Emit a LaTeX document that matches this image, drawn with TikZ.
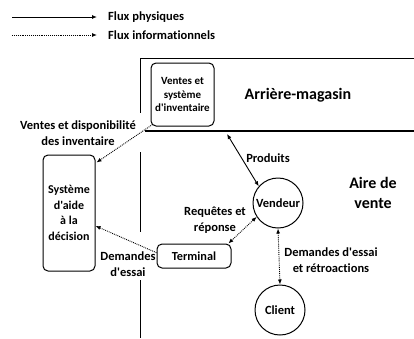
\documentclass[tikz,border=0pt]{standalone}
\usepackage{fontspec}
\newfontfamily\cf{Carlito}[Ligatures=NoCommon]
\usetikzlibrary{arrows.meta}
\begin{document}
\begin{tikzpicture}[x=1pt,y=-1pt,
  font=\cf\bfseries\fontsize{12.5}{16}\selectfont,
  >={Latex[length=5pt,width=4pt]},
  phys/.style={line width=0.9pt},
  info/.style={densely dotted, line width=0.9pt},
  wall/.style={line width=1pt},
  rbox/.style={draw, line width=1pt, rounded corners=5pt, align=center, inner sep=1pt},
  circ/.style={draw, circle, line width=1pt, minimum size=50pt, inner sep=0pt},
  lbl/.style={align=center, inner sep=0pt},
  big/.style={font=\cf\bfseries\fontsize{16}{20}\selectfont, align=center, inner sep=0pt}]
\useasboundingbox (0,0) rectangle (414,338);
% legend
\coordinate (l1a) at (12,17); \coordinate (l1b) at (97,17);
\coordinate (l2a) at (12,35); \coordinate (l2b) at (97,35);
\draw[phys,->] (l1a) -- (l1b);
\draw[info,->] (l2a) -- (l2b);
\node[anchor=west, inner sep=0pt] (lg1) at (108,17) {Flux physiques};
\node[anchor=west, inner sep=0pt] (lg2) at (108,35) {Flux informationnels};
% walls
\draw[wall] (414,58) -- (140,58) -- (140,113);
\draw[line width=1.3pt] (145,131) -- (414,131);
\draw[wall] (140,152) -- (140,232);
\draw[wall] (140,280) -- (140,338);
% nodes
\node[rbox, minimum width=63pt, minimum height=63pt, font=\cf\bfseries\fontsize{11}{13.5}\selectfont] (inv) at (182.5,94.5) {Ventes et\\système\\d'inventaire};
\node[big] (am) at (298,95) {Arrière-magasin};
\node[big] (av) at (373,193) {Aire de\\vente};
\node[rbox, minimum width=52pt, minimum height=116pt, font=\cf\bfseries\fontsize{12}{15.7}\selectfont] (sad) at (69,213) {Système\\d'aide\\à la\\décision};
\node[rbox, minimum width=74pt, minimum height=24pt, font=\cf\bfseries\fontsize{12.3}{14}\selectfont] (term) at (194,256) {Terminal};
\node[circ, font=\cf\bfseries\fontsize{12.5}{14}\selectfont] (vend) at (278,203) {Vendeur};
\node[circ, font=\cf\bfseries\fontsize{12.5}{14}\selectfont] (cli) at (280,310) {Client};
% connectors
\coordinate (prodtop) at (227,134);
\draw[phys,<->] (prodtop) -- (vend.139);
\draw[info,<->] (term.20) -- (vend.213);
\draw[info,<->] (vend.south) -- (cli.north);
\draw[info,->] (term.175) -- (sad.-26);
\draw[info,->] ([xshift=2pt,yshift=2pt]inv.south west) -- ([xshift=1pt,yshift=-8pt]sad.north east);
% labels
\node[lbl] (t1) at (78,133) {Ventes et disponibilité\\des inventaire};
\node[lbl] (t2) at (128,264) {Demandes\\d'essai};
\node[lbl] (t3) at (215,220) {Requêtes et\\réponse};
\node[lbl] (t4) at (268,158) {Produits};
\node[lbl] (t5) at (331,260) {Demandes d'essai\\et rétroactions};
\end{tikzpicture}
\end{document}
